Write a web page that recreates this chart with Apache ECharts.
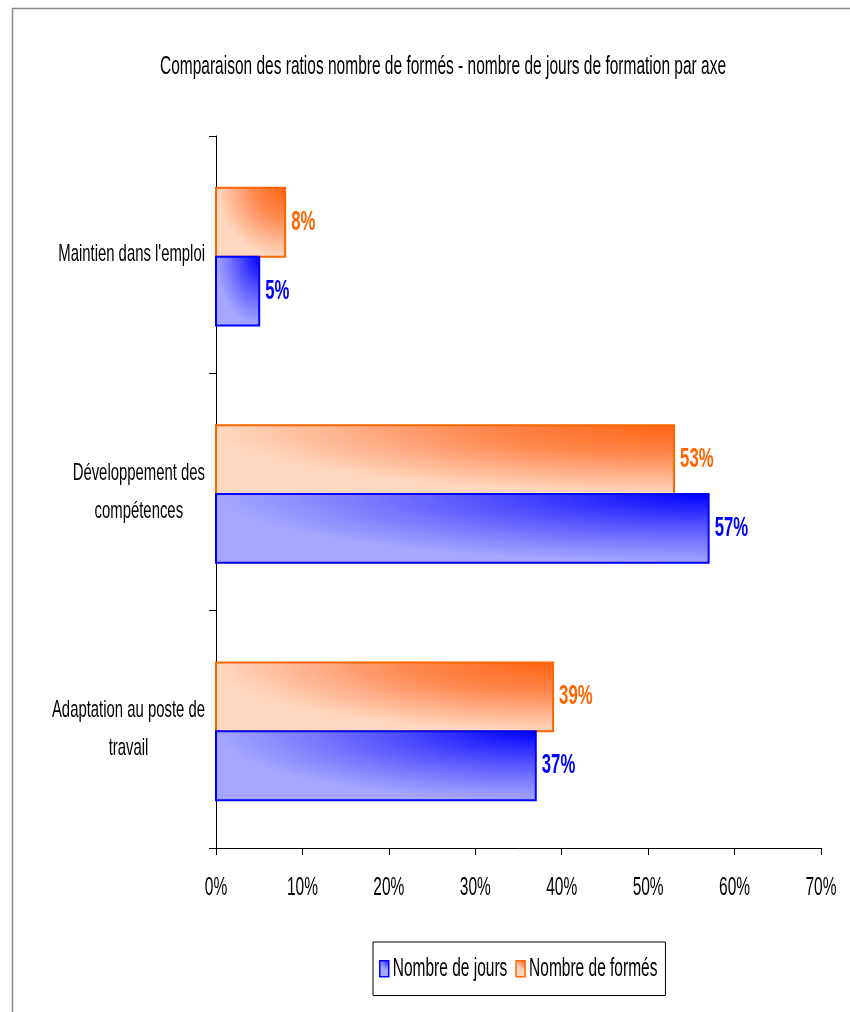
<!DOCTYPE html>
<html>
<head>
<meta charset="utf-8">
<script src="https://cdn.jsdelivr.net/npm/echarts@6/dist/echarts.min.js"></script>
<style>
  html, body { margin: 0; padding: 0; background: #fff; }
  #chart { width: 850px; height: 1012px; }
</style>
</head>
<body>
<div id="chart"></div>
<script>
// Training axes (bottom to top on the category axis)
const categories = [
  "Adaptation au poste de\ntravail",
  "Développement des\ncompétences",
  "Maintien dans l'emploi"
];
// Share of training days and of trained people per axis (%)
const nombreDeJours = [37, 57, 5];
const nombreDeFormes = [39, 53, 8];
// Value axis ticks
const xTicks = [0, 10, 20, 30, 40, 50, 60, 70];
const seriesNames = ["Nombre de jours", "Nombre de formés"];

// Narrow lettering: every canvas string is drawn and measured with a
// horizontal compression, so layout and glyphs stay consistent.
const SX = 0.62;
(function () {
  const proto = CanvasRenderingContext2D.prototype;
  const origMeasure = proto.measureText;
  const origFill = proto.fillText;
  const origStroke = proto.strokeText;
  proto.measureText = function (text) {
    const m = origMeasure.call(this, text);
    return {
      width: m.width * SX,
      actualBoundingBoxLeft: m.actualBoundingBoxLeft * SX,
      actualBoundingBoxRight: m.actualBoundingBoxRight * SX,
      actualBoundingBoxAscent: m.actualBoundingBoxAscent,
      actualBoundingBoxDescent: m.actualBoundingBoxDescent,
      fontBoundingBoxAscent: m.fontBoundingBoxAscent,
      fontBoundingBoxDescent: m.fontBoundingBoxDescent
    };
  };
  function squeezed(orig) {
    return function (text, x, y, maxWidth) {
      this.save();
      this.translate(x, y);
      this.scale(SX, 1);
      if (maxWidth !== undefined) orig.call(this, text, 0, 0, maxWidth / SX);
      else orig.call(this, text, 0, 0);
      this.restore();
    };
  }
  proto.fillText = squeezed(origFill);
  proto.strokeText = squeezed(origStroke);
})();

const FONT = "'Liberation Sans', Arial, sans-serif";

const BLUE = { stops: ['#0000ff', '#5050ff', '#7c7cff', '#a6a6ff'], line: '#0000ff' };
const ORANGE = { stops: ['#ff6410', '#ff8a52', '#ffb08a', '#ffd8bf'], line: '#ff6600' };

const BAR_RATIO = 0.29;
const PAIR_SHIFT = 2;

// Shading that spreads from the upper right corner of a unit box.
function cornerShade(pal) {
  return new echarts.graphic.RadialGradient(1, 0, 1, [
    { offset: 0, color: pal.stops[0] },
    { offset: 0.45, color: pal.stops[1] },
    { offset: 0.72, color: pal.stops[2] },
    { offset: 1, color: pal.stops[3] }
  ]);
}

// One horizontal bar: shaded body stretched over the bar's box,
// a crisp border, and the value written to its right.
function makeRenderer(pal, above) {
  return function (params, api) {
    const value = api.value(0);
    const cat = api.value(1);
    const base = api.coord([0, cat]);
    const end = api.coord([value, cat]);
    const h = api.size([0, 1])[1] * BAR_RATIO;
    const mid = base[1] + PAIR_SHIFT;
    const top = above ? mid - h : mid;
    const w = end[0] - base[0];
    return {
      type: 'group',
      children: [
        {
          type: 'rect',
          shape: { x: 0, y: 0, width: 1, height: 1 },
          x: base[0], y: top, scaleX: w, scaleY: h,
          style: { fill: cornerShade(pal) }
        },
        {
          type: 'rect',
          shape: { x: base[0], y: top, width: w, height: h },
          style: { fill: 'none', stroke: pal.line, lineWidth: 2 }
        },
        {
          type: 'text',
          x: end[0] + 6, y: top + h / 2,
          style: {
            text: value + '%',
            fill: pal.line,
            fontFamily: FONT, fontSize: 27, fontWeight: 'bold',
            align: 'left', verticalAlign: 'middle'
          }
        }
      ]
    };
  };
}

const chart = echarts.init(document.getElementById('chart'), null, { renderer: 'canvas' });

chart.setOption({
  backgroundColor: '#ffffff',
  animation: false,
  graphic: [{
    type: 'polyline',
    shape: { points: [[12.5, 1012], [12.5, 8.5], [850, 8.5]] },
    style: { stroke: '#8a8a8a', lineWidth: 1.5, fill: null },
    silent: true
  }],
  title: {
    text: 'Comparaison des ratios nombre de formés - nombre de jours de formation par axe',
    left: 438,
    top: 54,
    textAlign: 'center',
    textStyle: { fontFamily: FONT, fontSize: 25, fontWeight: 'normal', color: '#000' }
  },
  legend: {
    data: [
      { name: seriesNames[0], itemStyle: { color: cornerShade(BLUE), borderColor: BLUE.line, borderWidth: 1.5 } },
      { name: seriesNames[1], itemStyle: { color: cornerShade(ORANGE), borderColor: ORANGE.line, borderWidth: 1.5 } }
    ],
    left: 373,
    top: 942,
    orient: 'horizontal',
    icon: 'rect',
    padding: [18, 8, 18, 6],
    itemGap: 8,
    itemWidth: 9,
    itemHeight: 16,
    borderColor: '#000',
    borderWidth: 1,
    textStyle: { fontFamily: FONT, fontSize: 25, color: '#000', padding: [0, 0, 0, -1] }
  },
  grid: { left: 216, right: 29, top: 136, bottom: 164, containLabel: false },
  xAxis: {
    type: 'value',
    min: 0,
    max: 70,
    interval: 10,
    axisLine: { show: true, lineStyle: { color: '#000', width: 1 } },
    axisTick: { show: true, length: 7, lineStyle: { color: '#000' } },
    splitLine: { show: false },
    axisLabel: {
      margin: 32,
      fontFamily: FONT,
      fontSize: 25,
      color: '#000',
      formatter: v => (xTicks.indexOf(v) >= 0 ? v + '%' : '')
    }
  },
  yAxis: {
    type: 'category',
    data: categories,
    axisLine: { show: true, lineStyle: { color: '#000', width: 1 } },
    axisTick: { show: true, length: 7, lineStyle: { color: '#000' } },
    splitLine: { show: false },
    axisLabel: {
      margin: 11,
      align: 'right',
      fontFamily: FONT,
      fontSize: 24,
      color: '#000',
      formatter: v => v.split('\n').map(l => '{c|' + l + '}').join('\n'),
      rich: {
        c: { align: 'center', fontFamily: FONT, fontSize: 24, color: '#000', lineHeight: 38 }
      }
    }
  },
  series: [
    {
      name: seriesNames[1],
      type: 'custom',
      data: nombreDeFormes.map((v, i) => [v, i]),
      encode: { x: 0, y: 1 },
      itemStyle: { color: ORANGE.line },
      renderItem: makeRenderer(ORANGE, true)
    },
    {
      name: seriesNames[0],
      type: 'custom',
      data: nombreDeJours.map((v, i) => [v, i]),
      encode: { x: 0, y: 1 },
      itemStyle: { color: BLUE.line },
      renderItem: makeRenderer(BLUE, false)
    }
  ]
});
</script>
</body>
</html>
